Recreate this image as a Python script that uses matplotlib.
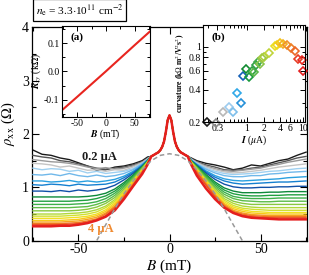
import numpy as np
import matplotlib
matplotlib.use('Agg')
import matplotlib.pyplot as plt
from matplotlib.ticker import MultipleLocator, LogLocator, FixedLocator, NullFormatter, FixedFormatter

plt.rcParams['font.family'] = ['Liberation Serif', 'DejaVu Serif']
plt.rcParams['mathtext.fontset'] = 'stix'
plt.rcParams['axes.unicode_minus'] = False

# ---- main panel: rho_xx(B) for increasing current ----
B_wing = [12, 15, 20, 25, 30, 35, 40, 45, 50, 55, 60, 65, 70, 75]
B_center = [-10, -8, -6, -5, -4, -3, -2, -1, 0, 1, 2, 3, 4, 5, 6, 8, 10]
rho_center = [1.58, 1.62, 1.66, 1.70, 1.76, 1.86, 2.04, 2.26, 2.35, 2.26, 2.04, 1.86, 1.76, 1.70, 1.66, 1.62, 1.58]

# values at +B_wing
rho_right = [
    [1.55, 1.50, 1.45, 1.42, 1.38, 1.33, 1.36, 1.42, 1.40, 1.45, 1.50, 1.53, 1.60, 1.66],
    [1.54, 1.48, 1.42, 1.38, 1.33, 1.32, 1.33, 1.36, 1.38, 1.42, 1.46, 1.50, 1.55, 1.58],
    [1.53, 1.47, 1.40, 1.35, 1.31, 1.30, 1.32, 1.34, 1.36, 1.40, 1.43, 1.47, 1.50, 1.53],
    [1.52, 1.46, 1.38, 1.33, 1.29, 1.27, 1.28, 1.30, 1.32, 1.35, 1.38, 1.40, 1.42, 1.44],
    [1.52, 1.45, 1.36, 1.30, 1.26, 1.24, 1.25, 1.26, 1.28, 1.30, 1.31, 1.33, 1.35, 1.36],
    [1.51, 1.44, 1.34, 1.27, 1.22, 1.20, 1.20, 1.22, 1.22, 1.25, 1.26, 1.28, 1.29, 1.30],
    [1.50, 1.43, 1.31, 1.22, 1.16, 1.13, 1.12, 1.13, 1.14, 1.15, 1.16, 1.18, 1.19, 1.20],
    [1.50, 1.42, 1.29, 1.19, 1.12, 1.08, 1.06, 1.07, 1.08, 1.09, 1.10, 1.10, 1.11, 1.12],
    [1.50, 1.41, 1.27, 1.15, 1.06, 1.01, 0.99, 0.99, 1.00, 1.00, 1.01, 1.01, 1.02, 1.02],
    [1.49, 1.40, 1.24, 1.10, 0.99, 0.93, 0.90, 0.90, 0.90, 0.91, 0.91, 0.92, 0.92, 0.92],
    [1.49, 1.39, 1.22, 1.07, 0.95, 0.88, 0.85, 0.84, 0.84, 0.85, 0.85, 0.86, 0.86, 0.86],
    [1.48, 1.38, 1.20, 1.04, 0.91, 0.83, 0.80, 0.79, 0.79, 0.79, 0.80, 0.80, 0.80, 0.80],
    [1.48, 1.37, 1.18, 1.01, 0.87, 0.79, 0.75, 0.74, 0.73, 0.73, 0.74, 0.74, 0.74, 0.74],
    [1.47, 1.36, 1.16, 0.98, 0.83, 0.74, 0.70, 0.68, 0.68, 0.68, 0.68, 0.68, 0.68, 0.68],
    [1.47, 1.35, 1.14, 0.95, 0.79, 0.70, 0.65, 0.63, 0.62, 0.62, 0.62, 0.62, 0.62, 0.62],
    [1.46, 1.34, 1.13, 0.93, 0.76, 0.66, 0.61, 0.59, 0.58, 0.57, 0.57, 0.57, 0.57, 0.57],
    [1.46, 1.33, 1.12, 0.91, 0.73, 0.63, 0.58, 0.55, 0.54, 0.53, 0.53, 0.53, 0.53, 0.53],
    [1.45, 1.32, 1.10, 0.88, 0.70, 0.60, 0.55, 0.52, 0.51, 0.50, 0.50, 0.50, 0.50, 0.50],
    [1.45, 1.31, 1.08, 0.86, 0.68, 0.57, 0.52, 0.49, 0.48, 0.47, 0.47, 0.47, 0.47, 0.47],
    [1.44, 1.29, 1.06, 0.84, 0.66, 0.55, 0.50, 0.47, 0.46, 0.45, 0.45, 0.45, 0.45, 0.45],
    [1.44, 1.27, 1.04, 0.82, 0.64, 0.53, 0.48, 0.45, 0.44, 0.43, 0.43, 0.43, 0.43, 0.43],
    [1.42, 1.22, 0.98, 0.78, 0.62, 0.52, 0.46, 0.43, 0.42, 0.41, 0.40, 0.40, 0.40, 0.40],
]
# values at -B_wing
rho_left = [
    [1.57, 1.50, 1.44, 1.40, 1.38, 1.33, 1.32, 1.40, 1.46, 1.52, 1.55, 1.60, 1.62, 1.70],
    [1.55, 1.48, 1.42, 1.38, 1.36, 1.34, 1.36, 1.40, 1.44, 1.48, 1.50, 1.55, 1.57, 1.60],
    [1.54, 1.47, 1.40, 1.36, 1.34, 1.37, 1.35, 1.38, 1.42, 1.45, 1.47, 1.48, 1.50, 1.52],
    [1.53, 1.46, 1.38, 1.32, 1.33, 1.30, 1.33, 1.32, 1.36, 1.40, 1.38, 1.42, 1.44, 1.45],
    [1.52, 1.45, 1.35, 1.30, 1.28, 1.26, 1.30, 1.27, 1.32, 1.30, 1.34, 1.35, 1.33, 1.36],
    [1.52, 1.44, 1.33, 1.26, 1.22, 1.20, 1.23, 1.20, 1.22, 1.26, 1.22, 1.25, 1.23, 1.24],
    [1.51, 1.42, 1.30, 1.21, 1.15, 1.12, 1.10, 1.12, 1.10, 1.13, 1.11, 1.10, 1.12, 1.12],
    [1.51, 1.41, 1.28, 1.18, 1.10, 1.06, 1.05, 1.04, 1.06, 1.03, 1.05, 1.06, 1.04, 1.05],
    [1.50, 1.40, 1.26, 1.14, 1.04, 0.98, 0.95, 0.93, 0.95, 0.92, 0.94, 0.92, 0.93, 0.93],
    [1.50, 1.39, 1.23, 1.09, 0.97, 0.89, 0.85, 0.83, 0.82, 0.82, 0.82, 0.82, 0.82, 0.82],
    [1.49, 1.38, 1.21, 1.06, 0.93, 0.84, 0.79, 0.76, 0.75, 0.74, 0.74, 0.74, 0.74, 0.74],
    [1.49, 1.37, 1.19, 1.03, 0.89, 0.79, 0.73, 0.70, 0.69, 0.68, 0.68, 0.68, 0.68, 0.68],
    [1.48, 1.36, 1.17, 1.00, 0.85, 0.74, 0.68, 0.64, 0.63, 0.62, 0.62, 0.62, 0.62, 0.62],
    [1.48, 1.35, 1.15, 0.97, 0.81, 0.70, 0.63, 0.59, 0.57, 0.56, 0.56, 0.56, 0.56, 0.56],
    [1.47, 1.34, 1.13, 0.94, 0.77, 0.65, 0.58, 0.54, 0.52, 0.51, 0.50, 0.50, 0.50, 0.50],
    [1.47, 1.33, 1.12, 0.92, 0.74, 0.62, 0.54, 0.50, 0.48, 0.47, 0.46, 0.46, 0.46, 0.46],
    [1.46, 1.32, 1.11, 0.90, 0.71, 0.58, 0.50, 0.46, 0.44, 0.43, 0.42, 0.42, 0.42, 0.42],
    [1.46, 1.31, 1.09, 0.87, 0.68, 0.55, 0.47, 0.43, 0.40, 0.39, 0.38, 0.38, 0.38, 0.38],
    [1.45, 1.30, 1.07, 0.85, 0.65, 0.52, 0.44, 0.40, 0.37, 0.36, 0.35, 0.35, 0.35, 0.35],
    [1.45, 1.29, 1.05, 0.83, 0.63, 0.50, 0.41, 0.37, 0.34, 0.33, 0.32, 0.32, 0.32, 0.32],
    [1.44, 1.27, 1.03, 0.81, 0.61, 0.47, 0.39, 0.35, 0.32, 0.31, 0.30, 0.30, 0.30, 0.30],
    [1.43, 1.25, 1.02, 0.78, 0.57, 0.45, 0.38, 0.33, 0.30, 0.28, 0.28, 0.27, 0.27, 0.27],
]
curve_colors = ['#1a1a1a', '#555555', '#9a9a9a', '#c4c4c4', '#9fd0f0', '#70b8ea',
                '#2aa0e0', '#1580d0', '#1050a8', '#0e8a3a', '#20a040', '#3cb04a',
                '#5cbc48', '#88c840', '#b0d838', '#d0e030', '#f0e020', '#f8c818',
                '#f8a020', '#f07820', '#ec5020', '#e41e1e']

# dashed classical background
B_dash = [-42, -40, -35, -30, -25, -20, -15, -10, -5, 0, 5, 10, 15, 20, 25, 30, 35, 40, 42]
rho_dash = [-0.12, 0.0, 0.30, 0.60, 0.88, 1.12, 1.33, 1.50, 1.60, 1.63, 1.60, 1.50, 1.33, 1.12, 0.88, 0.60, 0.30, 0.0, -0.12]

# ---- inset (a): Hall resistance ----
B_hall = [-77, -50, -25, 0, 25, 50, 77]
R_hall = [-0.138, -0.090, -0.045, 0.0, 0.046, 0.092, 0.141]

# ---- inset (b): curvature vs current ----
I_b = [0.196, 0.283, 0.38, 0.48, 0.58, 0.68, 0.78, 0.87, 0.97, 1.09, 1.24, 1.37, 1.47, 1.61,
       1.73, 1.9, 2.04, 2.5, 3.16, 3.5, 3.93, 4.5, 5.2, 6.1, 7.4, 8.3, 9.6, 10.0]
curv_b = [0.201, 0.197, 0.25, 0.273, 0.25, 0.37, 0.30, 0.535, 0.62, 0.526, 0.60, 0.58, 0.684, 0.725,
          0.70, 0.79, 0.81, 0.875, 1.03, 1.05, 1.09, 1.076, 1.045, 0.97, 0.92, 0.78, 0.76, 0.60]
point_colors = ['#1a1a1a', '#8c8c8c', '#b8b8b8', '#9ccbee', '#7fbfea', '#30a8e8', '#2590d8',
                '#1460b8', '#108a30', '#1a9a3c', '#2ca040', '#5ab848', '#30a048', '#40aa48',
                '#88c448', '#9cc840', '#a8cc3c', '#c0d43a', '#e8e020', '#f0d81c', '#f4c418',
                '#f4b020', '#f09028', '#ee8028', '#ec6828', '#e83c24', '#e82a22', '#e42020']

W, H = 309, 275
fig = plt.figure(figsize=(W / 100, H / 100), dpi=100)

ax = fig.add_axes([32 / W, (H - 240.7) / H, 275 / W, 213.4 / H])
for k in range(len(rho_right)):
    B = [-b for b in B_wing[::-1]] + B_center + B_wing
    r = rho_left[k][::-1] + rho_center + rho_right[k]
    lw = 1.8 if k == len(rho_right) - 1 else 1.0
    ax.plot(B, r, color=curve_colors[k], lw=lw, zorder=2 + k)
ax.plot(B_dash, rho_dash, ls=(0, (3, 2)), color='#999999', lw=1.1, zorder=30)
ax.set_xlim(-75.5, 75.5)
ax.set_ylim(0, 4)
ax.xaxis.set_major_locator(MultipleLocator(50))
ax.xaxis.set_minor_locator(MultipleLocator(25))
ax.yaxis.set_major_locator(MultipleLocator(1))
ax.yaxis.set_minor_locator(MultipleLocator(0.5))
ax.tick_params(which='both', direction='in', top=True, right=True, labelsize=10, pad=2, width=0.8)
ax.tick_params(which='major', length=5)
ax.tick_params(which='minor', length=3)
for s in ax.spines.values():
    s.set_linewidth(0.9)
ax.set_xlabel('$B$ (mT)', fontsize=11, labelpad=1)
ax.set_ylabel(r'$\rho_{\rm xx}$ ($\Omega$)', fontsize=10.5)
ax.yaxis.set_label_coords(-0.055, 0.55)
ax.text(-38.2, 1.57, '0.2 µA', fontsize=9, fontweight='bold', color='#1a1a1a',
        ha='center', va='center', zorder=40)
ax.text(-37.6, 0.21, '4 µA', fontsize=9, fontweight='bold', color='#f08a30',
        ha='center', va='center', zorder=40)

fig.text(36 / W, 1 - 10 / H, r'$n_{\rm e}$ = 3.3$\cdot$10$^{11}$ cm$^{-2}$', fontsize=8.2,
         ha='left', va='center',
         bbox=dict(boxstyle='square,pad=0.25', fc='white', ec='black', lw=0.9))

# inset (a)
axa = fig.add_axes([61.7 / W, (H - 116.7) / H, 88.3 / W, 90.7 / H])
axa.plot(B_hall, R_hall, color='#e8251f', lw=1.5)
axa.set_xlim(-77, 77)
axa.set_ylim(-0.16, 0.16)
axa.xaxis.set_major_locator(MultipleLocator(50))
axa.xaxis.set_minor_locator(MultipleLocator(25))
axa.yaxis.set_major_locator(FixedLocator([-0.1, 0.0, 0.1]))
axa.yaxis.set_major_formatter(FixedFormatter(['-0.1', '0.0', '0.1']))
axa.yaxis.set_minor_locator(MultipleLocator(0.05))
axa.tick_params(which='both', direction='in', top=True, right=True, labelsize=7, pad=1.5, width=0.7)
axa.tick_params(which='major', length=3.5)
axa.tick_params(which='minor', length=2)
axa.set_xlabel(r'$\boldsymbol{B}$ (mT)', fontsize=7, labelpad=0)
axa.set_ylabel(r'$\boldsymbol{R}_{xy}$ (k$\Omega$)', fontsize=7, labelpad=1)
axa.text(0.1, 0.85, '(a)', transform=axa.transAxes, fontsize=8, fontweight='bold')

# inset (b)
axb = fig.add_axes([203 / W, (H - 122) / H, 102 / W, 97 / H])
for i, c, col in zip(I_b, curv_b, point_colors):
    axb.plot([i], [c], marker='D', ms=4, mfc='none', mec=col, mew=1.2, clip_on=False)
axb.set_xscale('log')
axb.set_yscale('log')
axb.set_xlim(0.166, 11)
axb.set_ylim(0.2, 1.6)
axb.xaxis.set_major_locator(FixedLocator([0.3, 1, 2, 4, 6, 10]))
axb.xaxis.set_major_formatter(FixedFormatter(['0.3', '1', '2', '4', '6', '10']))
axb.xaxis.set_minor_locator(LogLocator(subs=np.arange(2, 10)))
axb.xaxis.set_minor_formatter(NullFormatter())
axb.yaxis.set_major_locator(FixedLocator([0.2, 0.4, 0.6, 0.8, 1]))
axb.yaxis.set_major_formatter(FixedFormatter(['0.2', '0.4', '0.6', '0.8', '1']))
axb.yaxis.set_minor_locator(FixedLocator([0.3, 0.5, 0.7, 0.9]))
axb.yaxis.set_minor_formatter(NullFormatter())
axb.tick_params(which='both', direction='in', top=True, right=True, labelsize=7, pad=1.5, width=0.7)
axb.tick_params(which='major', length=3.5)
axb.tick_params(which='minor', length=2)
axb.set_xlabel(r'$\boldsymbol{I}$ ($\mu$A)', fontsize=7, labelpad=0)
axb.set_ylabel(r'curvature (k$\Omega$ m$^2$/V$^2$s$^2$)', fontsize=5.5, fontweight='bold', labelpad=1)
axb.text(0.08, 0.85, '(b)', transform=axb.transAxes, fontsize=8, fontweight='bold')

fig.savefig('out.png', dpi=100)
